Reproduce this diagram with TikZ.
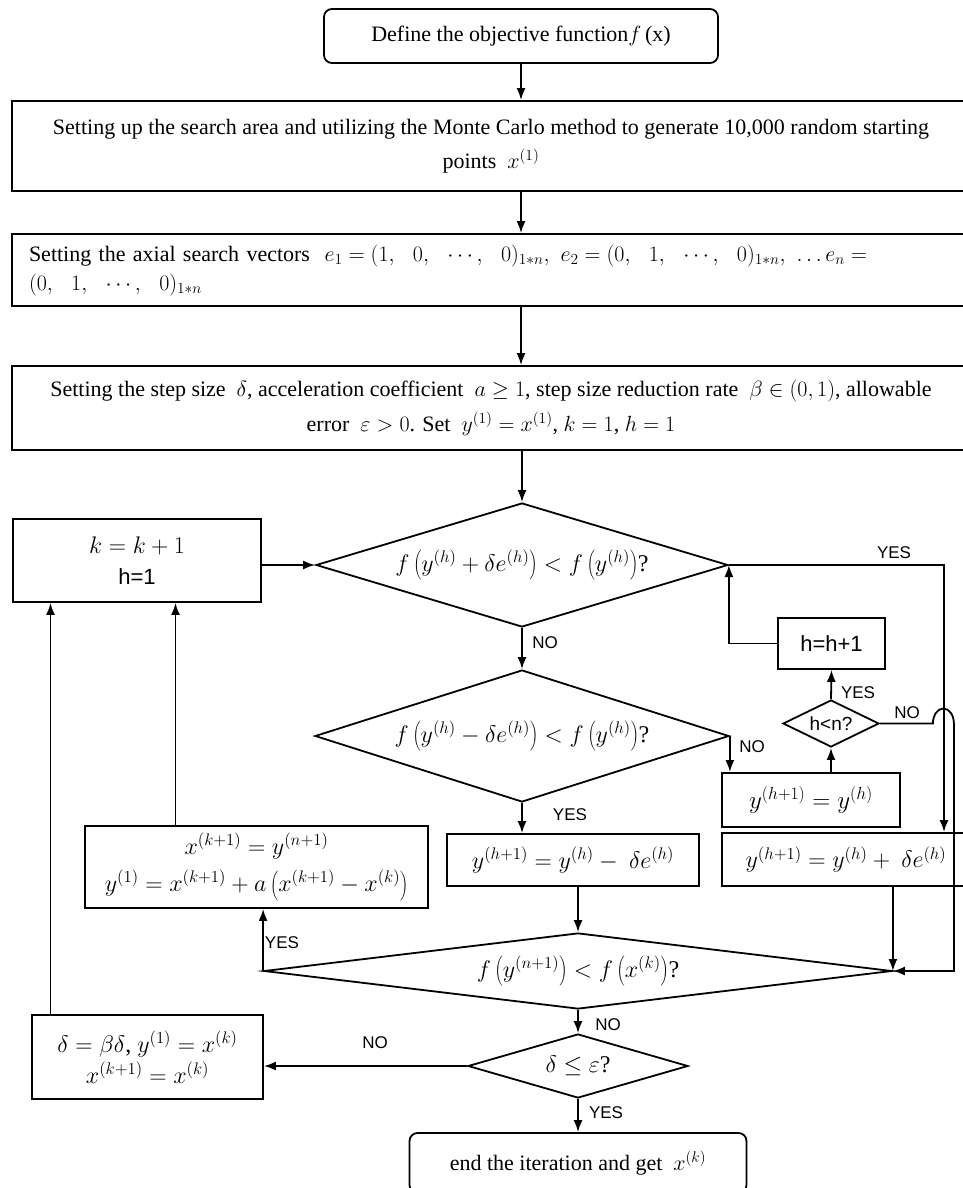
\RequirePackage{fix-cm}
\documentclass[tikz,border=0pt]{standalone}
\usepackage{fontspec}
\setmainfont{Liberation Serif}
\newfontfamily\labelfont{Liberation Sans}
\usetikzlibrary{shapes.geometric,arrows.meta}

\begin{document}
\begin{tikzpicture}[x=1pt,y=-1pt,line width=1.8pt,>={Latex[length=12pt,width=9pt]},
    font=\fontsize{22}{34}\selectfont]

        \useasboundingbox (0,0) rectangle (963,1188);
        \clip (0,0) rectangle (963,1188);

        \begin{scope}[every node/.style={draw, rectangle, align=center, inner sep=0pt}]
          \node[rounded corners=8pt, minimum width=394, minimum height=54] (1) at (521,36)
            {Define the objective function$f\,$(x)};
          \node[minimum width=958, minimum height=90] (2) at (491,146)
            {Setting up the search area and utilizing the Monte Carlo method to generate 10,000 random starting\\
             points\ \ $x^{(1)}$};
          \node[minimum width=958, minimum height=72, text width=924, align=left,
                font=\fontsize{22}{29}\selectfont] (3) at (491,270)
            {Setting the axial search vectors\ \ $e_1=(1,\enspace\, 0,\enspace\, \cdots,\enspace\, 0)_{1*n},\ e_2=(0,\enspace\, 1,\enspace\, \cdots,\enspace\, 0)_{1*n},\ \ldots e_n=$\\
             $(0,\enspace\, 1,\enspace\, \cdots,\enspace\, 0)_{1*n}$};
          \node[minimum width=958, minimum height=84, font=\fontsize{22}{35}\selectfont] (4) at (491,408)
            {Setting the step size\ \ $\delta$, acceleration coefficient\ \ $a\geq 1$, step size reduction rate\ \ $\beta\in(0,1)$, allowable\\
             error\ \ $\varepsilon>0$. Set\ \ $y^{(1)}=x^{(1)}$,\ $k=1$,\ $h=1$};
          \node[minimum width=248, minimum height=83, font=\fontsize{24}{31}\selectfont] (6) at (137,560.5)
            {$k=k+1$\\ {\labelfont\fontsize{22}{24}\selectfont h=1}};
          \node[minimum width=107, minimum height=51, font=\labelfont\fontsize{22}{24}\selectfont] (7) at (831.5,643.5) {h=h+1};
          \node[minimum width=178, minimum height=54, font=\fontsize{25}{30}\selectfont] (10) at (811,800) {$y^{(h+1)}=y^{(h)}$};
          \node[minimum width=252, minimum height=52, font=\fontsize{24}{30}\selectfont] (11) at (573,860) {$y^{(h+1)}=y^{(h)}-\ \delta e^{(h)}$};
          \node[minimum width=248, minimum height=53, font=\fontsize{24}{30}\selectfont] (12) at (846,859.5) {$y^{(h+1)}=y^{(h)}+\ \delta e^{(h)}$};
          \node[minimum width=343, minimum height=82, font=\fontsize{24}{37}\selectfont] (13) at (256.5,867)
            {$x^{(k+1)}=y^{(n+1)}$\\ $y^{(1)}=x^{(k+1)}+a\left(x^{(k+1)}-x^{(k)}\right)$};
          \node[minimum width=231, minimum height=84, font=\fontsize{24}{31}\selectfont] (16) at (147.5,1057)
            {$\delta=\beta\delta$, $y^{(1)}=x^{(k)}$\\ $x^{(k+1)}=x^{(k)}$};
          \node[rounded corners=8pt, minimum width=337, minimum height=60] (17) at (578,1163)
            {end the iteration and get\ \ $x^{(k)}$};
        \end{scope}

        \begin{scope}[every node/.style={draw, diamond, inner sep=0pt, font=\fontsize{24}{30}\selectfont}]
          \node[aspect=3.3, minimum width=412, minimum height=124] (5) at (522,565)
            {$f\left(y^{(h)}+\delta e^{(h)}\right)<f\left(y^{(h)}\right)$?};
          \node[aspect=2, minimum width=96, minimum height=47, font=\labelfont\fontsize{19}{20}\selectfont] (8) at (831,723.5) {h<n?};
          \node[aspect=3.1, minimum width=414, minimum height=132] (9) at (522,736)
            {$f\left(y^{(h)}-\delta e^{(h)}\right)<f\left(y^{(h)}\right)$?};
          \node[aspect=8.3, minimum width=628, minimum height=76] (14) at (578,971)
            {$f\left(y^{(n+1)}\right)<f\left(x^{(k)}\right)$?};
          \node[aspect=3.4, minimum width=220, minimum height=64] (15) at (578,1066)
            {$\delta\leq\varepsilon$?};
        \end{scope}

        \begin{scope}[->]
          \draw (1.south) -- (1.south |- 2.north);
          \draw (2.south -| 1.south) -- (3.north -| 1.south);
          \draw (3.south -| 1.south) -- (4.north -| 1.south);
          \draw (4.south -| 5.north) -- (5.north);
          \draw (6.east |- 5.west) -- (5.west);
          \draw (5.east) -| ([xshift=98pt]12.north);
          \draw (7.west) -| (5.east);
          \draw (8.north) -- (7.south);
          \draw (10.north -| 8.south) -- (8.south);
          \draw (8.east) -- ++(53,0) arc[start angle=180, end angle=360, x radius=10.5, y radius=15] |- (14.east);
          \draw (5.south) -- (9.north);
          \draw (9.east) -- (9.east |- 10.north);
          \draw (9.south) -- (9.south |- 11.north);
          \draw (11.south -| 14.north) -- (14.north);
          \draw (12.south -| 14.east) -- (14.east);
          \draw (14.west) -- (14.west |- 13.south);
          \draw ([xshift=-81pt]13.north) -- ([xshift=-81pt]13.north |- 6.south);
          \draw ([xshift=-97pt]16.north) -- ([xshift=-97pt]16.north |- 6.south);
          \draw (14.south) -- (15.north);
          \draw (15.west) -- (15.west -| 16.east);
          \draw (15.south) -- (17.north);
        \end{scope}

        \begin{scope}[every node/.style={font=\labelfont\fontsize{17}{20}\selectfont, inner sep=0pt}]
          \node (y1) at (894,553)  {YES};
          \node (n1) at (545,643)  {NO};
          \node (y2) at (858,693)  {YES};
          \node (n2) at (907,713)  {NO};
          \node (n3) at (752,747)  {NO};
          \node (y3) at (570,815)  {YES};
          \node (y4) at (282,943)  {YES};
          \node (n4) at (608,1025) {NO};
          \node (n5) at (375,1043) {NO};
          \node (y5) at (606,1113) {YES};
        \end{scope}

      \end{tikzpicture}
\end{document}
